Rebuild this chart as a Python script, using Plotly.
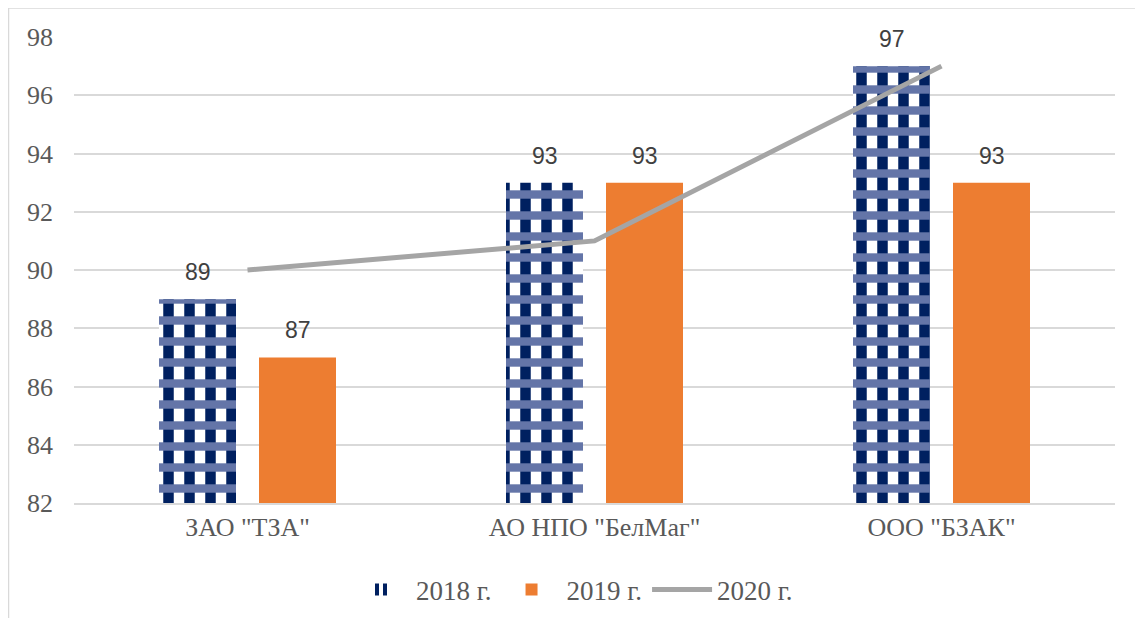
import plotly.graph_objects as go

categories = ['ЗАО "ТЗА"', 'АО НПО "БелМаг"', 'ООО "БЗАК"']
values_2018 = [89, 93, 97]
values_2019 = [87, 93, 93]
values_2020 = [90, 91, 97]
series_names = ["2018 г.", "2019 г.", "2020 г."]
y_ticks = [82, 84, 86, 88, 90, 92, 94, 96, 98]

NAVY = "#002060"
BAND = "#6475a8"
ORANGE = "#ED7D31"
GRAY = "#A5A5A5"
TEXT = "#595959"
GRID = "#D9D9D9"
SERIF = "Liberation Serif, Times New Roman, serif"
SANS = "Liberation Sans, Arial, sans-serif"

fig = go.Figure()
# 2018: vertical navy stripes ...
fig.add_trace(go.Bar(
    x=categories, y=values_2018, name=series_names[0], offsetgroup="a",
    marker=dict(color="white", line=dict(width=0),
                pattern=dict(shape="|", fgcolor=NAVY, bgcolor="white",
                             fgopacity=1, size=21, solidity=0.5,
                             fillmode="replace")),
))
# ... woven with lighter horizontal bands (same slot, no legend entry)
fig.add_trace(go.Bar(
    x=categories, y=values_2018, name=series_names[0], offsetgroup="a",
    showlegend=False, hoverinfo="skip",
    marker=dict(color="rgba(0,0,0,0)", line=dict(width=0),
                pattern=dict(shape="-", fgcolor=BAND, fgopacity=1,
                             size=21, solidity=0.4, fillmode="overlay")),
))
fig.add_trace(go.Bar(
    x=categories, y=values_2019, name=series_names[1], offsetgroup="b",
    marker=dict(color=ORANGE, line=dict(width=0)),
))
fig.add_trace(go.Scatter(
    x=categories, y=values_2020, name=series_names[2], mode="lines",
    line=dict(color=GRAY, width=5),
))

annotations = []
for vals, shift in ((values_2018, -50), (values_2019, 50)):
    for c, v in zip(categories, vals):
        annotations.append(dict(
            x=c, y=v, xref="x", yref="y", text=str(v), showarrow=False,
            xshift=shift, yshift=12, yanchor="bottom",
            font=dict(family=SANS, size=23, color="#404040"),
        ))

# page has an 8px body margin; compensate so the plot lands at page coords
OFF = 8
L, R, T, B = 74 - OFF, 28, 37 - OFF, 115
W, H = 1143 - OFF, 626 - 2 * OFF
pw, ph = W - L - R, H - T - B
bottom_page = OFF + H - B  # page y of plot bottom


def py(page_y):
    return (bottom_page - page_y) / ph


def px(page_x):
    return (page_x - (OFF + L)) / pw


fig.update_layout(
    width=W, height=H,
    margin=dict(l=L, r=R, t=T, b=B),
    paper_bgcolor="white", plot_bgcolor="white",
    barmode="group", bargap=0.4236, bargroupgap=0.23,
    showlegend=True,
    legend=dict(orientation="h", x=px(572), xanchor="center",
                yref="container", y=1 - (590 - OFF) / H, yanchor="middle",
                font=dict(family=SERIF, size=27, color=TEXT),
                itemwidth=60, tracegroupgap=0),
    annotations=annotations,
    shapes=[dict(type="rect", xref="paper", yref="paper",
                 x0=px(8.5), x1=px(1142), y0=py(640), y1=py(8),
                 line=dict(color=GRID, width=1.5), fillcolor="rgba(0,0,0,0)",
                 layer="below")],
)
fig.update_xaxes(
    showgrid=False, showline=True, linecolor=GRID, linewidth=1.5,
    ticks="", tickfont=dict(family=SERIF, size=26, color=TEXT),
)
fig.update_yaxes(
    range=[82, 98], tickvals=y_ticks, showgrid=True, gridcolor=GRID, gridwidth=1.5,
    zeroline=False, showline=False, ticks="",
    tickfont=dict(family=SERIF, size=26, color=TEXT), ticklabelstandoff=20,
)

fig.write_html("out.html")
